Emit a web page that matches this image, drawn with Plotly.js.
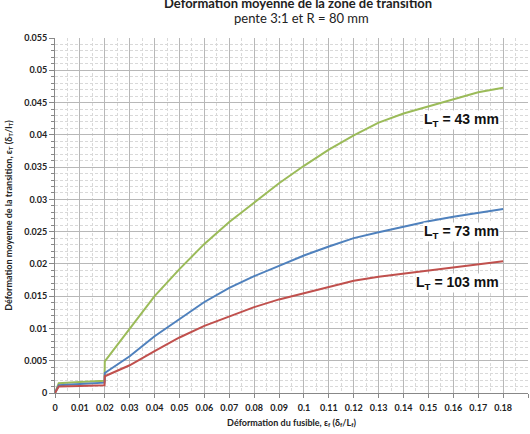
<!DOCTYPE html>
<html><head><meta charset="utf-8">
<script src="https://cdn.plot.ly/plotly-3.0.1.min.js"></script>
<style>html,body{margin:0;padding:0;background:#fff;}#c{width:530px;height:434px;}</style>
</head><body><div id="c"></div>
<script>
const xVals = [0, 0.0015, 0.01, 0.0199, 0.02, 0.03, 0.04, 0.05, 0.06, 0.07, 0.08, 0.09, 0.10, 0.11, 0.12, 0.13, 0.14, 0.15, 0.16, 0.17, 0.18];
const lt43  = [0, 0.0015, 0.0017, 0.0019, 0.0049, 0.0099, 0.0150, 0.0192, 0.0231, 0.0265, 0.0295, 0.0325, 0.0352, 0.0377, 0.0399, 0.0419, 0.0433, 0.0444, 0.0455, 0.0466, 0.0473];
const lt73  = [0, 0.0012, 0.0014, 0.0016, 0.0031, 0.0057, 0.0088, 0.0115, 0.0141, 0.0163, 0.0181, 0.0197, 0.0213, 0.0227, 0.0240, 0.0249, 0.0258, 0.0266, 0.0273, 0.0279, 0.0285];
const lt103 = [0, 0.0010, 0.0011, 0.0012, 0.0026, 0.0043, 0.0065, 0.0086, 0.0104, 0.0119, 0.0133, 0.0145, 0.0155, 0.0165, 0.0174, 0.0180, 0.0185, 0.0190, 0.0195, 0.0200, 0.0204];
const seriesNames = ["L<sub>T</sub> = 43 mm", "L<sub>T</sub> = 73 mm", "L<sub>T</sub> = 103 mm"];
const labelY = [0.0423, 0.0249, 0.0171];
const xTicks = [0,0.01,0.02,0.03,0.04,0.05,0.06,0.07,0.08,0.09,0.1,0.11,0.12,0.13,0.14,0.15,0.16,0.17,0.18,0.19];
const yTicks = [0,0.005,0.01,0.015,0.02,0.025,0.03,0.035,0.04,0.045,0.05,0.055];

const colors = ["#9bbb59", "#4f81bd", "#c0504d"];
const ys = [lt43, lt73, lt103];
const traces = ys.map((y, i) => ({
  x: xVals, y: y, type: 'scatter', mode: 'lines', name: seriesNames[i],
  line: {color: colors[i], width: 2}
}));

const tickFont = {family: 'Lato, sans-serif', size: 9, color: '#222', weight: 'bold'};
const layout = {
  width: 530, height: 434,
  margin: {l: 55, r: 2, t: 38, b: 41},
  paper_bgcolor: '#fff', plot_bgcolor: '#fff',
  showlegend: false,
  xaxis: {
    range: [0, 0.19], tickvals: xTicks, ticktext: xTicks.map(String),
    showgrid: true, gridcolor: '#b8b8b8', gridwidth: 1,
    minor: {dtick: 0.005, showgrid: true, gridcolor: '#d9d9d9', griddash: '3px,2px', gridwidth: 1},
    ticks: 'outside', ticklen: 4, tickcolor: '#888',
    showline: true, linecolor: '#888', linewidth: 1,
    zeroline: false, tickfont: tickFont, ticklabelstandoff: 2,
    title: {text: 'Déformation du fusible, ε<sub>f</sub> (δ<sub>f</sub>/L<sub>f</sub>)', font: {family: 'Lato, sans-serif', size: 9, color: '#222', weight: 'bold'}, standoff: 7}
  },
  yaxis: {
    range: [0, 0.055], tickvals: yTicks, ticktext: yTicks.map(String),
    showgrid: true, gridcolor: '#b8b8b8', gridwidth: 1,
    minor: {dtick: 0.001, showgrid: true, gridcolor: '#d9d9d9', griddash: '3px,2px', gridwidth: 1, ticks: 'outside', ticklen: 3, tickcolor: '#888'},
    ticks: 'outside', ticklen: 5, tickcolor: '#888',
    showline: true, linecolor: '#888', linewidth: 1,
    zeroline: false, tickfont: tickFont,
    title: {text: 'Déformation moyenne de la transition, ε<sub>T</sub> (δ<sub>T</sub>/l<sub>T</sub>)', font: {family: 'Lato, sans-serif', size: 9, color: '#222', weight: 'bold'}, standoff: 10}
  },
  annotations: [
    {xref: 'paper', yref: 'paper', x: 0.514, y: 1.0986, xanchor: 'center', yanchor: 'middle', showarrow: false,
     text: '<b>Déformation moyenne de la zone de transition</b>', font: {family: 'Lato, sans-serif', size: 13, color: '#222'}},
    {xref: 'paper', yref: 'paper', x: 0.522, y: 1.056, xanchor: 'center', yanchor: 'middle', showarrow: false,
     text: 'pente 3:1 et R = 80 mm', font: {family: 'Lato, sans-serif', size: 13, color: '#222'}}
  ].concat(seriesNames.map((t, i) => ({
     xref: 'x', yref: 'y', x: 0.1787, y: labelY[i], xanchor: 'right', yanchor: 'middle', showarrow: false,
     text: '<b>' + t + '</b>', bgcolor: '#fff', borderpad: 0,
     font: {family: 'Liberation Sans, Arial, sans-serif', size: 14, color: '#111'}
  })))
};
Plotly.newPlot('c', traces, layout, {staticPlot: true, displayModeBar: false});
</script>
</body></html>
